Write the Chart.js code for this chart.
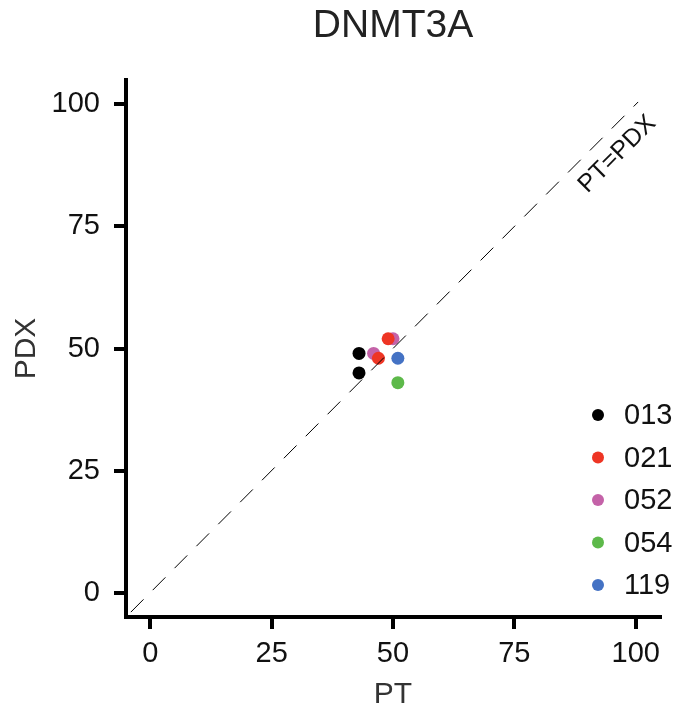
<!DOCTYPE html>
<html>
<head>
<meta charset="utf-8">
<script src="https://cdn.jsdelivr.net/npm/chart.js@4/dist/chart.umd.min.js"></script>
<style>
  html, body { margin: 0; padding: 0; background: #fff; }
  #wrap { width: 679px; height: 713px; }
</style>
</head>
<body>
<div id="wrap"><canvas id="chart" width="679" height="713"></canvas></div>
<script>
// samples and their PT / PDX values
const samples = ['013', '021', '052', '054', '119'];
const colors = ['#000000', '#ee3524', '#c462a8', '#5db94a', '#4472c4'];
const ptValues = [[43, 43], [47, 49], [46, 50], [51], [51]];
const pdxValues = [[49, 45], [48, 52], [49, 52], [43], [48]];
const tickValues = [0, 25, 50, 75, 100];
const diagonal = [-4, 100.5];

const FONT = '"Liberation Sans", Arial, Helvetica, sans-serif';

const datasets = samples.map((s, i) => ({
  type: 'scatter',
  label: s,
  data: ptValues[i].map((x, j) => ({ x: x, y: pdxValues[i][j] })),
  backgroundColor: colors[i],
  borderWidth: 0,
  pointRadius: 6.5,
  pointHoverRadius: 6.5
}));

// PT = PDX reference line
datasets.unshift({
  type: 'line',
  label: 'PT=PDX',
  data: diagonal.map(v => ({ x: v, y: v })),
  borderColor: '#000',
  borderWidth: 1,
  borderDash: [18, 13],
  pointRadius: 0,
  fill: false
});

const extras = {
  id: 'extras',
  afterDraw(chart) {
    const ctx = chart.ctx;
    const area = chart.chartArea;
    const xs = chart.scales.x, ys = chart.scales.y;
    ctx.save();
    // title
    ctx.fillStyle = '#222';
    ctx.font = '39px ' + FONT;
    ctx.textAlign = 'center';
    ctx.textBaseline = 'middle';
    ctx.fillText('DNMT3A', (area.left + area.right) / 2, 26);

    // diagonal label
    ctx.save();
    ctx.translate(xs.getPixelForValue(96.2), ys.getPixelForValue(89.8));
    ctx.rotate(-Math.PI / 4);
    ctx.font = '25px ' + FONT;
    ctx.fillStyle = '#111';
    ctx.fillText('PT=PDX', 0, 0);
    ctx.restore();

    // legend
    ctx.textAlign = 'left';
    ctx.font = '29px ' + FONT;
    samples.forEach((s, i) => {
      const y = 415 + i * 42.5;
      ctx.beginPath();
      ctx.fillStyle = colors[i];
      ctx.arc(598, y, 6, 0, Math.PI * 2);
      ctx.fill();
      ctx.fillStyle = '#111';
      ctx.fillText(s, 624, y + 1);
    });
    ctx.restore();
  }
};

new Chart(document.getElementById('chart'), {
  type: 'scatter',
  data: { datasets: datasets },
  options: {
    responsive: false,
    animation: false,
    layout: { padding: { top: 80, right: 19, left: 0, bottom: 0 } },
    plugins: {
      legend: { display: false },
      tooltip: { enabled: false },
      title: { display: false }
    },
    scales: {
      x: {
        type: 'linear',
        min: -5,
        max: 105,
        afterBuildTicks: s => { s.ticks = tickValues.map(v => ({ value: v })); },
        afterFit: s => { s.height = 96; },
        border: { display: true, color: '#000', width: 4 },
        grid: { drawOnChartArea: false, drawTicks: true, tickLength: 12, tickWidth: 4, tickColor: '#000', lineWidth: 4 },
        ticks: { color: '#111', font: { family: FONT, size: 29 }, padding: 8, maxRotation: 0 },
        title: { display: true, text: 'PT', color: '#333', font: { family: FONT, size: 30 }, padding: { top: 0, bottom: 0 } }
      },
      y: {
        type: 'linear',
        min: -5,
        max: 105,
        afterBuildTicks: s => { s.ticks = tickValues.map(v => ({ value: v })); },
        afterFit: s => { s.width = 126; },
        border: { display: true, color: '#000', width: 4 },
        grid: { drawOnChartArea: false, drawTicks: true, tickLength: 12, tickWidth: 4, tickColor: '#000', lineWidth: 4 },
        ticks: { color: '#111', font: { family: FONT, size: 29 }, padding: 14 },
        title: { display: true, text: 'PDX', color: '#333', font: { family: FONT, size: 30 }, padding: { top: 9, bottom: 0 } }
      }
    }
  },
  plugins: [extras]
});
</script>
</body>
</html>
